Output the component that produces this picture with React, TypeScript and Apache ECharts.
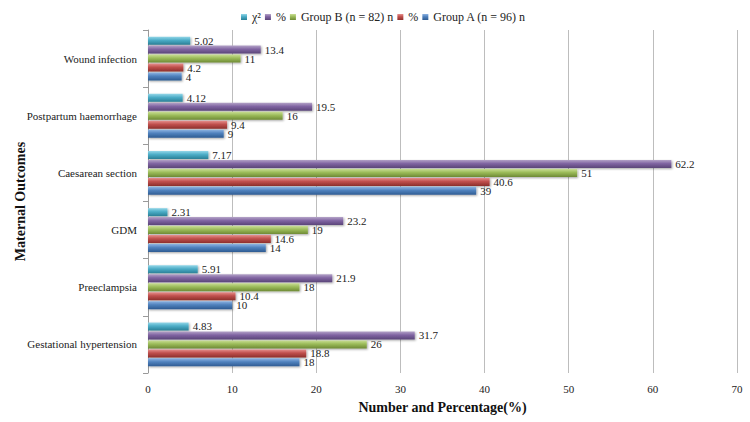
import React, { useEffect, useRef } from "react";
import * as echarts from "echarts";

const categories = [
  "Gestational hypertension",
  "Preeclampsia",
  "GDM",
  "Caesarean section",
  "Postpartum haemorrhage",
  "Wound infection",
];
const groupAN = [18, 10, 14, 39, 9, 4];
const groupAPct = [18.8, 10.4, 14.6, 40.6, 9.4, 4.2];
const groupBN = [26, 18, 19, 51, 16, 11];
const groupBPct = [31.7, 21.9, 23.2, 62.2, 19.5, 13.4];
const chiSquare = [4.83, 5.91, 2.31, 7.17, 4.12, 5.02];

// Listed top-to-bottom within each category band (also the legend order).
// The second "%" carries a zero-width space so the legend keeps both entries.
const seriesNames = ["χ²", "%", "Group B (n = 82) n", "%\u200B", "Group A (n = 96) n"];
const seriesData = [chiSquare, groupBPct, groupBN, groupAPct, groupAN];
const baseColors = ["#4BACC6", "#8064A2", "#9BBB59", "#C0504D", "#4F81BD"];
const lightColors = ["#93D6E8", "#B3A2C7", "#C9DE94", "#E6908D", "#8DB3E2"];
const darkColors = ["#2A7F96", "#5A4578", "#6E8A35", "#8E2F2C", "#2E5B92"];

const FONT = "Liberation Serif";

export default function App() {
  const ref = useRef<HTMLDivElement>(null);
  useEffect(() => {
    if (!ref.current) return;
    const chart = echarts.init(ref.current, undefined, { renderer: "svg" });
    chart.setOption({
      animation: false,
      backgroundColor: "#fff",
      textStyle: { fontFamily: FONT },
      legend: {
        top: 6,
        left: 236,
        itemWidth: 6,
        itemHeight: 6,
        itemGap: 4,
        icon: "rect",
        textStyle: { fontFamily: FONT, fontSize: 12, color: "#222" },
        data: seriesNames,
      },
      grid: { left: 148, right: 13, top: 30, bottom: 49, containLabel: false, outerBoundsMode: "none" },
      xAxis: {
        type: "value",
        min: 0,
        max: 70,
        interval: 10,
        axisLine: { show: false },
        axisTick: { show: false },
        axisLabel: { fontFamily: FONT, fontSize: 11, color: "#222", margin: 10 },
        splitLine: { lineStyle: { color: "#BDBDBD", width: 1 } },
        name: "Number and Percentage(%)",
        nameLocation: "middle",
        nameGap: 27,
        nameTextStyle: { fontFamily: FONT, fontSize: 14, fontWeight: "bold", color: "#111" },
      },
      yAxis: {
        type: "category",
        data: categories,
        axisLine: { show: true, lineStyle: { color: "#9A9A9A" } },
        axisTick: { show: true, length: 5, lineStyle: { color: "#9A9A9A" } },
        axisLabel: { fontFamily: FONT, fontSize: 11, color: "#222", margin: 11 },
        name: "Maternal Outcomes",
        nameLocation: "middle",
        nameGap: 121,
        nameRotate: 90,
        nameMoveOverlap: false,
        nameTextStyle: { fontFamily: FONT, fontSize: 14, fontWeight: "bold", color: "#111" },
      },
      series: seriesData.map((d, i) => ({
        name: seriesNames[i],
        type: "bar",
        data: d,
        barWidth: 8,
        barGap: "12%",
        itemStyle: {
          color: new echarts.graphic.LinearGradient(0, 0, 0, 1, [
            { offset: 0, color: lightColors[i] },
            { offset: 0.45, color: baseColors[i] },
            { offset: 1, color: darkColors[i] },
          ]),
          shadowColor: "rgba(0,0,0,0.35)",
          shadowBlur: 2,
          shadowOffsetY: 1,
          shadowOffsetX: 1,
        },
        label: {
          show: true,
          position: "right",
          distance: 4,
          fontFamily: FONT,
          fontSize: 11,
          color: "#222",
        },
      })),
    });
    return () => chart.dispose();
  }, []);
  return <div ref={ref} style={{ width: 750, height: 422, position: "absolute", left: 0, top: 0 }} />;
}
